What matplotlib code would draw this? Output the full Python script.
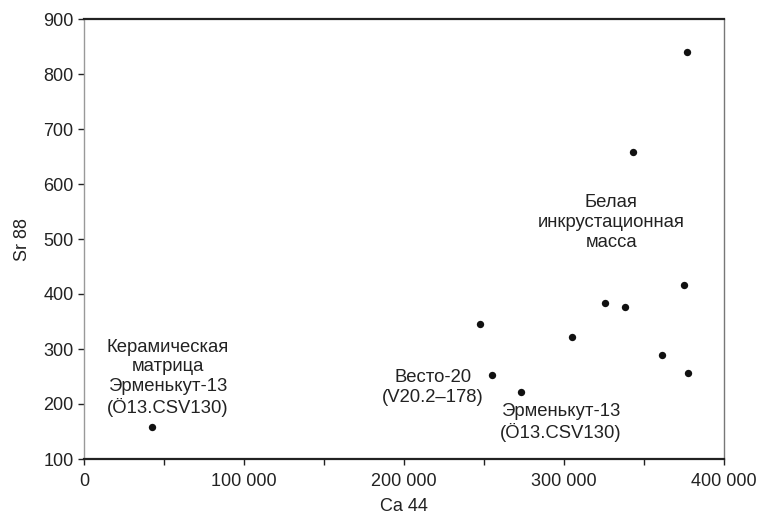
import matplotlib.pyplot as plt
from matplotlib.ticker import FuncFormatter, MultipleLocator

plt.rcParams['font.family'] = ['Liberation Sans', 'DejaVu Sans']

# Ca 44 vs Sr 88 values
ca44 = [42500, 247500, 254800, 272900, 305200, 325800, 337900,
        361100, 375000, 377700, 376900, 343300]
sr88 = [158, 345, 252, 221, 321, 384, 376,
        289, 417, 256, 840, 658]

labels = [
    (52500, 248, 'Керамическая\nматрица\nЭрменькут-13\n(Ö13.CSV130)'),
    (329500, 530, 'Белая\nинкрустационная\nмасса'),
    (218000, 230, 'Весто-20\n(V20.2–178)'),
    (298000, 167, 'Эрменькут-13\n(Ö13.CSV130)'),
]

fig = plt.figure(figsize=(7.61, 5.16), dpi=100)
ax = fig.add_axes([84 / 761, 1 - 459 / 516, 640 / 761, 440 / 516])

ax.scatter(ca44, sr88, s=28, color='#111111', zorder=3, linewidths=0)

for x, y, txt in labels:
    ax.text(x, y, txt, ha='center', va='center', fontsize=13.3,
            color='#222222', linespacing=1.2, multialignment='center')

ax.set_xlim(0, 400000)
ax.set_ylim(100, 900)
ax.xaxis.set_major_locator(MultipleLocator(100000))
ax.xaxis.set_minor_locator(MultipleLocator(50000))
ax.yaxis.set_major_locator(MultipleLocator(100))
ax.xaxis.set_major_formatter(FuncFormatter(lambda v, p: f'{int(v):,}'.replace(',', ' ')))

ax.tick_params(axis='both', which='major', labelsize=13, length=4, width=1,
               color='#222222', labelcolor='#222222', direction='out')
ax.tick_params(axis='x', which='minor', length=4, width=1, color='#222222')
ax.tick_params(axis='x', pad=6)

ax.spines['top'].set_color('#222222')
ax.spines['top'].set_linewidth(1.6)
ax.spines['bottom'].set_color('#222222')
ax.spines['bottom'].set_linewidth(1.6)
ax.spines['left'].set_color('#999999')
ax.spines['left'].set_linewidth(1)
ax.spines['right'].set_color('#777777')
ax.spines['right'].set_linewidth(1)

ax.set_xlabel('Ca 44', fontsize=13, color='#222222', labelpad=6)
ax.set_ylabel('Sr 88', fontsize=13, color='#222222', labelpad=9)

fig.savefig('out.png', dpi=100)
